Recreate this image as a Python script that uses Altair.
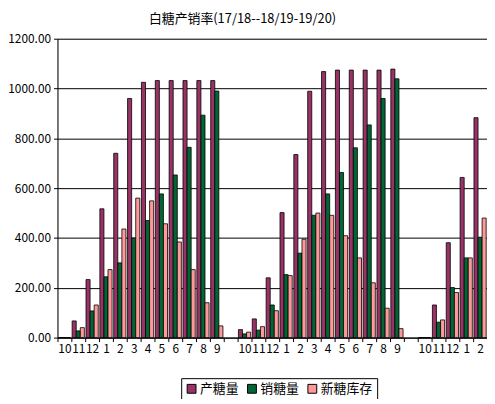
import altair as alt
import pandas as pd

months = ["10", "11", "12", "1", "2", "3", "4", "5", "6", "7", "8", "9", "",
          "10", "11", "12", "1", "2", "3", "4", "5", "6", "7", "8", "9", "",
          "10", "11", "12", "1", "2"]

series_names = ["产糖量", "销糖量", "新糖库存"]

# values per slot (None = blank separator slot)
production = [0, 67, 233, 517, 740, 960, 1025, 1032, 1032, 1032, 1032, 1032, None,
              32, 75, 240, 502, 735, 989, 1068, 1074, 1074, 1074, 1074, 1078, None,
              0, 131, 381, 643, 883]
sales = [0, 27, 107, 244, 300, 400, 470, 577, 653, 764, 893, 990, None,
         15, 30, 131, 253, 339, 491, 577, 663, 762, 854, 960, 1039, None,
         0, 62, 201, 320, 403]
stock = [0, 40, 131, 273, 436, 560, 549, 457, 384, 273, 140, 47, None,
         22, 44, 108, 249, 395, 500, 491, 409, 320, 220, 118, 36, None,
         0, 71, 181, 320, 480]

rows = []
for i in range(len(months)):
    for name, vals in zip(series_names, [production, sales, stock]):
        if vals[i] is not None:
            rows.append({"slot": i, "series": name, "value": vals[i]})
df = pd.DataFrame(rows)

label_map = "[" + ",".join('"%s"' % m for m in months) + "]"

font = "Noto Sans CJK SC"

chart = alt.Chart(df).mark_bar(stroke="black", strokeWidth=0.8).encode(
    x=alt.X("slot:O", scale=alt.Scale(domain=list(range(len(months))), paddingInner=0, paddingOuter=0),
            axis=alt.Axis(title=None, labelExpr=label_map + "[datum.value]", labelAngle=0,
                          tickBand="extent", tickColor="black", tickSize=4, domainColor="black",
                          labelFont=font, labelFontSize=12, labelColor="black", labelPadding=2,
                          grid=False)),
    xOffset=alt.XOffset("series:N", sort=series_names,
                        scale=alt.Scale(paddingOuter=0.2, paddingInner=0)),
    y=alt.Y("value:Q", scale=alt.Scale(domain=[0, 1200], nice=False),
            axis=alt.Axis(title=None, values=[0, 200, 400, 600, 800, 1000, 1200], format=".2f",
                          gridColor="black", gridWidth=1, gridOpacity=1, tickColor="black",
                          tickSize=4, domainColor="black", labelFont=font, labelFontSize=12,
                          labelColor="black", labelPadding=3)),
    color=alt.Color("series:N", sort=series_names,
                    scale=alt.Scale(domain=series_names, range=["#993366", "#006633", "#FF9999"]),
                    legend=alt.Legend(title=None, orient="none", legendX=125, legendY=343,
                                      direction="horizontal", symbolType="square", symbolSize=80,
                                      symbolStrokeColor="black", symbolStrokeWidth=1,
                                      labelFont=font, labelFontSize=13, labelColor="black",
                                      strokeColor="black", padding=4, columnPadding=6,
                                      fillColor="white", labelOffset=2)),
).properties(
    width=434,
    height=302,
    title=alt.TitleParams("白糖产销率(17/18--18/19-19/20)", font=font, fontSize=13,
                          fontWeight="normal", color="black", anchor="middle", dx=-30, offset=7),
    autosize=alt.AutoSizeParams(type="none"),
    padding={"left": 50, "top": 29, "right": 0, "bottom": 60},
).configure_view(
    fill="#C0C0C0", stroke="#808080"
).configure(background="white")

chart.save("out.html", embed_options={"renderer": "svg", "actions": False})
